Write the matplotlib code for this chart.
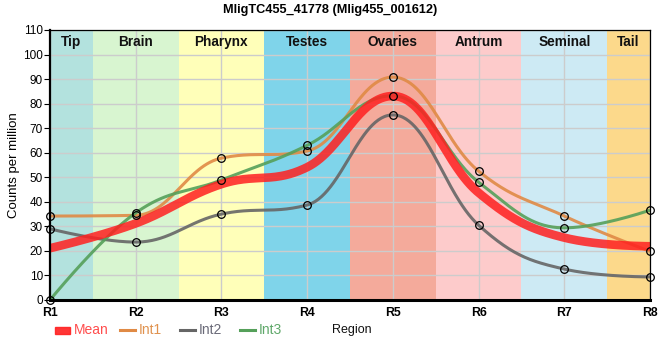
import numpy as np
import matplotlib
matplotlib.use("Agg")
import matplotlib.pyplot as plt
from matplotlib.lines import Line2D
from matplotlib.patches import Rectangle

plt.rcParams['font.family'] = ['Liberation Sans', 'DejaVu Sans']

title = "MligTC455_41778 (Mlig455_001612)"
regions = ["R1", "R2", "R3", "R4", "R5", "R6", "R7", "R8"]
band_names = ["Tip", "Brain", "Pharynx", "Testes", "Ovaries", "Antrum", "Seminal", "Tail"]
band_colors = ["#b3e2de", "#d8f5d0", "#ffffb9", "#7fd4ea", "#f4aa9b", "#fdcbcb", "#cdeaf4", "#fcd98b"]

int1 = [34.2, 34.5, 57.8, 60.7, 90.8, 52.5, 34.2, 19.8]
int2 = [29.0, 23.6, 35.0, 38.7, 75.4, 30.5, 12.6, 9.4]
int3 = [0.0, 35.5, 48.9, 63.0, 83.2, 48.0, 29.4, 36.6]
mean = [21.1, 31.2, 47.2, 54.1, 83.1, 43.7, 25.4, 21.9]

series_names = ["Mean", "Int1", "Int2", "Int3"]
series_colors = ["#ff2020", "#e08a45", "#666666", "#55a05a"]
text_colors = ["#ff4d4d", "#e0924f", "#6a6a78", "#5fa86a"]


def spline(xs, ys, n=60, smoothing=1.5):
    """Highcharts-style spline through the points."""
    xs = [float(v) for v in xs]
    ys = [float(v) for v in ys]
    m = len(xs)
    den = smoothing + 1
    lc = [None] * m
    rc = [None] * m
    for i in range(1, m - 1):
        px, py = xs[i], ys[i]
        lx, ly = xs[i - 1], ys[i - 1]
        nx, ny = xs[i + 1], ys[i + 1]
        lcx = (smoothing * px + lx) / den
        lcy = (smoothing * py + ly) / den
        rcx = (smoothing * px + nx) / den
        rcy = (smoothing * py + ny) / den
        corr = (rcy - lcy) * (rcx - px) / (rcx - lcx) + py - rcy
        lcy += corr
        rcy += corr
        if lcy > ly and lcy > py:
            lcy = max(ly, py)
            rcy = 2 * py - lcy
        elif lcy < ly and lcy < py:
            lcy = min(ly, py)
            rcy = 2 * py - lcy
        if rcy > ny and rcy > py:
            rcy = max(ny, py)
            lcy = 2 * py - rcy
        elif rcy < ny and rcy < py:
            rcy = min(ny, py)
            lcy = 2 * py - rcy
        lc[i] = (lcx, lcy)
        rc[i] = (rcx, rcy)
    X, Y = [], []
    u = np.linspace(0, 1, n)
    for i in range(1, m):
        p0 = (xs[i - 1], ys[i - 1])
        p1 = rc[i - 1] if rc[i - 1] is not None else p0
        p3 = (xs[i], ys[i])
        p2 = lc[i] if lc[i] is not None else p3
        b = [(1 - u) ** 3, 3 * (1 - u) ** 2 * u, 3 * (1 - u) * u ** 2, u ** 3]
        X.append(b[0] * p0[0] + b[1] * p1[0] + b[2] * p2[0] + b[3] * p3[0])
        Y.append(b[0] * p0[1] + b[1] * p1[1] + b[2] * p2[1] + b[3] * p3[1])
    return np.concatenate(X), np.concatenate(Y)


fig = plt.figure(figsize=(6.6, 3.6), dpi=100)
ax = fig.add_axes([50 / 660, 60 / 360, 600 / 660, 270 / 360])
x = np.arange(len(regions))
ax.set_xlim(0, len(regions) - 1)
ax.set_ylim(0, 110)

for i, (nm, c) in enumerate(zip(band_names, band_colors)):
    lo = max(i - 0.5, 0)
    hi = min(i + 0.5, len(regions) - 1)
    ax.axvspan(lo, hi, color=c, zorder=0, lw=0)
    ax.text((lo + hi) / 2, 0.955, nm, transform=ax.get_xaxis_transform(),
            ha="center", va="center", fontsize=9.8, fontweight="bold", color="#111111", zorder=5)

ax.set_yticks(np.arange(0, 111, 10))
ax.set_xticks(x)
ax.set_xticklabels(regions)
ax.grid(True, color="#cccccc", lw=1, zorder=1)
ax.set_axisbelow(False)

data = [mean, int1, int2, int3]
widths = [6.2, 2.2, 2.2, 2.2]
alphas = [0.85, 0.9, 0.9, 0.9]
for k in [1, 2, 3, 0]:
    cx, cy = spline(x, data[k])
    ax.plot(cx, cy, color=series_colors[k], lw=widths[k], alpha=alphas[k],
            solid_capstyle="butt", zorder=4 if k == 0 else 3)
for k in [1, 2, 3]:
    ax.plot(x, data[k], ls="none", marker="o", ms=5.5, mfc="none", mec="black",
            mew=0.9, zorder=6, clip_on=False)

for side in ["top", "right"]:
    ax.spines[side].set_linewidth(0.9)
ax.spines["left"].set_linewidth(1.6)
ax.spines["bottom"].set_linewidth(2.2)
for sp in ax.spines.values():
    sp.set_zorder(7)

ax.tick_params(axis="y", length=4, width=0.8, labelsize=8.5, pad=1, colors="black")
ax.tick_params(axis="x", length=0, labelsize=8.8, pad=5)
for lb in ax.get_xticklabels():
    lb.set_fontweight("bold")

fig.text(330 / 660, 1 - 10 / 360, title, ha="center", va="center", fontsize=9.2, fontweight="bold")
fig.text(14 / 660, 1 - 165 / 360, "Counts per million", rotation=90, ha="center", va="center", fontsize=9.5)

# legend
ly = 1 - 330 / 360
sw = [(55, 70), (120, 135), (180, 195), (240, 255)]
for k, (a, b) in enumerate(sw):
    if k == 0:
        fig.patches.append(Rectangle((a / 660, ly - 3.5 / 360), (b - a) / 660, 7 / 360,
                                     transform=fig.transFigure, color=series_colors[0], alpha=0.9))
    else:
        fig.add_artist(Line2D([a / 660, b / 660], [ly, ly], transform=fig.transFigure,
                              color=series_colors[k], lw=2.2))
    fig.text((b + 4) / 660, ly, series_names[k], ha="left", va="center", fontsize=10, color=text_colors[k])
fig.text(332 / 660, ly, "Region", ha="left", va="center", fontsize=9, color="#111111")

fig.savefig("out.png", dpi=100)
